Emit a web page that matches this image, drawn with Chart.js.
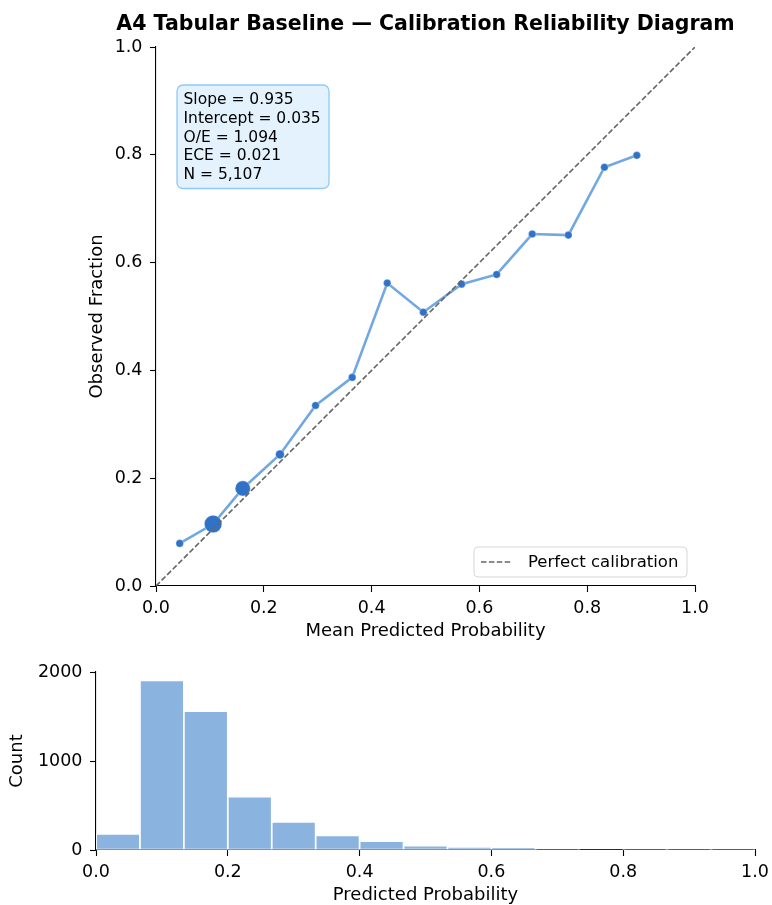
<!DOCTYPE html>
<html>
<head>
<meta charset="utf-8">
<script src="https://cdn.jsdelivr.net/npm/chart.js@4.4.1/dist/chart.umd.min.js"></script>
<style>
  html, body { margin:0; padding:0; background:#fff; overflow:hidden; width:772px; height:905px; }
  #c1 { position:absolute; left:79px; top:0px; }
  #c2 { position:absolute; left:0px; top:650px; }
</style>
</head>
<body>
<canvas id="c1" width="693" height="650"></canvas>
<canvas id="c2" width="772" height="270"></canvas>
<script>
// ---- data ----
const calibX = [0.044, 0.106, 0.161, 0.230, 0.296, 0.364, 0.429, 0.496, 0.567, 0.632, 0.698, 0.765, 0.832, 0.892];
const calibY = [0.079, 0.115, 0.181, 0.244, 0.335, 0.387, 0.562, 0.508, 0.560, 0.578, 0.653, 0.651, 0.777, 0.799];
const histCounts = [180, 1905, 1560, 600, 315, 165, 100, 48, 36, 24, 12, 6, 3, 2, 1];
const numBins = 15;
const axisTicks01 = [0.0, 0.2, 0.4, 0.6, 0.8, 1.0];
const countTicks = [0, 1000, 2000];
const statsLines = ['Slope = 0.935', 'Intercept = 0.035', 'O/E = 1.094', 'ECE = 0.021', 'N = 5,107'];
const titleText = 'A4 Tabular Baseline \u2014 Calibration Reliability Diagram';

// ---- styles ----
const FONT = 'DejaVu Sans';
Chart.defaults.font.family = FONT;
Chart.defaults.color = '#000';
const LINE_COLOR = 'rgba(74,144,217,0.78)';
const POINT_COLOR = '#2f72c8';
const HIST_COLOR = '#8ab3e0';
const pointRadii = [3.8, 8.8, 7.6, 4.4, 3.8, 3.8, 3.8, 3.8, 3.8, 3.8, 3.8, 3.8, 3.8, 3.8];

function axisCommon(extra) {
  return Object.assign({
    type: 'linear',
    grid: { display: true, drawOnChartArea: false, drawTicks: true, tickLength: 6, tickColor: '#000', tickWidth: 1.1, offset: false },
    border: { display: true, color: '#000', width: 1.1 },
  }, extra);
}

const overlayPlugin = {
  id: 'overlay',
  afterDraw(chart) {
    const { ctx, chartArea: a } = chart;
    ctx.save();
    // title
    ctx.fillStyle = '#000';
    ctx.font = 'bold 20.5px ' + FONT;
    ctx.textAlign = 'center';
    ctx.textBaseline = 'alphabetic';
    ctx.fillText(titleText, (a.left + a.right) / 2, 30);

    // stats box
    const bx = a.left + 21, by = a.top + 38, bw = 152, bh = 103.5;
    ctx.beginPath();
    ctx.roundRect(bx, by, bw, bh, 6);
    ctx.fillStyle = '#e3f2fd';
    ctx.fill();
    ctx.lineWidth = 1.3;
    ctx.strokeStyle = '#90caf9';
    ctx.stroke();
    ctx.fillStyle = '#000';
    ctx.font = '15.5px ' + FONT;
    ctx.textAlign = 'left';
    statsLines.forEach((t, i) => ctx.fillText(t, bx + 6.5, by + 19 + i * 18.75));

    // legend
    const lx = a.right - 221, ly = a.bottom - 39, lw = 213, lh = 30;
    ctx.beginPath();
    ctx.roundRect(lx, ly, lw, lh, 4);
    ctx.fillStyle = 'rgba(255,255,255,0.8)';
    ctx.fill();
    ctx.lineWidth = 1;
    ctx.strokeStyle = '#d6d6d6';
    ctx.stroke();
    const ds = chart.data.datasets[1];
    ctx.beginPath();
    ctx.setLineDash(ds.borderDash);
    ctx.strokeStyle = ds.borderColor;
    ctx.lineWidth = ds.borderWidth;
    ctx.moveTo(a.right - 214, ly + lh / 2);
    ctx.lineTo(a.right - 184, ly + lh / 2);
    ctx.stroke();
    ctx.setLineDash([]);
    ctx.fillStyle = '#000';
    ctx.font = '16.5px ' + FONT;
    ctx.textBaseline = 'middle';
    ctx.fillText(ds.label, a.right - 167, ly + lh / 2 + 0.5);
    ctx.restore();
  }
};

function noPad(s) { s.paddingLeft = 0; s.paddingRight = 0; s.paddingTop = 0; s.paddingBottom = 0; }

new Chart(document.getElementById('c1'), {
  type: 'line',
  data: {
    datasets: [
      {
        label: 'Calibration',
        data: calibX.map((x, i) => ({ x: x, y: calibY[i] })),
        borderColor: LINE_COLOR,
        borderWidth: 2.6,
        tension: 0,
        fill: false,
        pointRadius: pointRadii,
        pointBackgroundColor: POINT_COLOR,
        pointBorderColor: 'rgba(255,255,255,0.6)',
        pointBorderWidth: 0.6,
        order: 1
      },
      {
        label: 'Perfect calibration',
        data: [{ x: 0, y: 0 }, { x: 1, y: 1 }],
        borderColor: '#666666',
        borderDash: [5.5, 2.4],
        borderWidth: 1.6,
        pointRadius: 0,
        fill: false,
        order: 0
      }
    ]
  },
  options: {
    responsive: false,
    animation: false,
    devicePixelRatio: 1,
    layout: { padding: { left: 0, right: 77, top: 47, bottom: 0 } },
    plugins: { legend: { display: false }, tooltip: { enabled: false }, title: { display: false } },
    scales: {
      x: axisCommon({
        min: 0, max: 1,
        afterBuildTicks(s) { s.ticks = axisTicks01.map(v => ({ value: v })); },
        ticks: { callback: v => Number(v).toFixed(1), font: { size: 17.5 }, color: '#000', padding: 6, maxRotation: 0, autoSkip: false },
        title: { display: true, text: 'Mean Predicted Probability', font: { size: 18 }, color: '#000', padding: { top: 0, bottom: 7.7 } },
        afterFit(s) { s.height = 64; noPad(s); }
      }),
      y: axisCommon({
        min: 0, max: 1,
        afterBuildTicks(s) { s.ticks = axisTicks01.map(v => ({ value: v })); },
        ticks: { callback: v => Number(v).toFixed(1), font: { size: 17.5 }, color: '#000', padding: 7.5, autoSkip: false },
        title: { display: true, text: 'Observed Fraction', font: { size: 18 }, color: '#000', padding: { top: 7.2, bottom: 0 } },
        afterFit(s) { s.width = 77; noPad(s); }
      })
    }
  },
  plugins: [overlayPlugin]
});

new Chart(document.getElementById('c2'), {
  type: 'bar',
  data: {
    datasets: [{
      label: 'Count',
      data: histCounts.map((c, i) => ({ x: (i + 0.5) / numBins, y: c })),
      backgroundColor: HIST_COLOR,
      borderColor: '#ffffff',
      borderWidth: 1.2,
      borderSkipped: false,
      barPercentage: 1,
      categoryPercentage: 1,
      grouped: false
    }]
  },
  options: {
    responsive: false,
    animation: false,
    devicePixelRatio: 1,
    layout: { padding: { left: 0, right: 17, top: 22, bottom: 0 } },
    plugins: { legend: { display: false }, tooltip: { enabled: false } },
    scales: {
      x: axisCommon({
        min: 0, max: 1, offset: false,
        afterBuildTicks(s) { s.ticks = axisTicks01.map(v => ({ value: v })); },
        ticks: { callback: v => Number(v).toFixed(1), font: { size: 17.5 }, color: '#000', padding: 6, maxRotation: 0, autoSkip: false },
        title: { display: true, text: 'Predicted Probability', font: { size: 18 }, color: '#000', padding: { top: 0, bottom: 13.7 } },
        afterFit(s) { s.height = 70; noPad(s); }
      }),
      y: axisCommon({
        min: 0, max: 2000,
        afterBuildTicks(s) { s.ticks = countTicks.map(v => ({ value: v })); },
        ticks: { callback: v => String(v), font: { size: 17.5 }, color: '#000', padding: 7.5, autoSkip: false },
        title: { display: true, text: 'Count', font: { size: 18 }, color: '#000', padding: { top: 6.7, bottom: 0 } },
        afterFit(s) { s.width = 96; noPad(s); }
      })
    }
  }
});
</script>
</body>
</html>
